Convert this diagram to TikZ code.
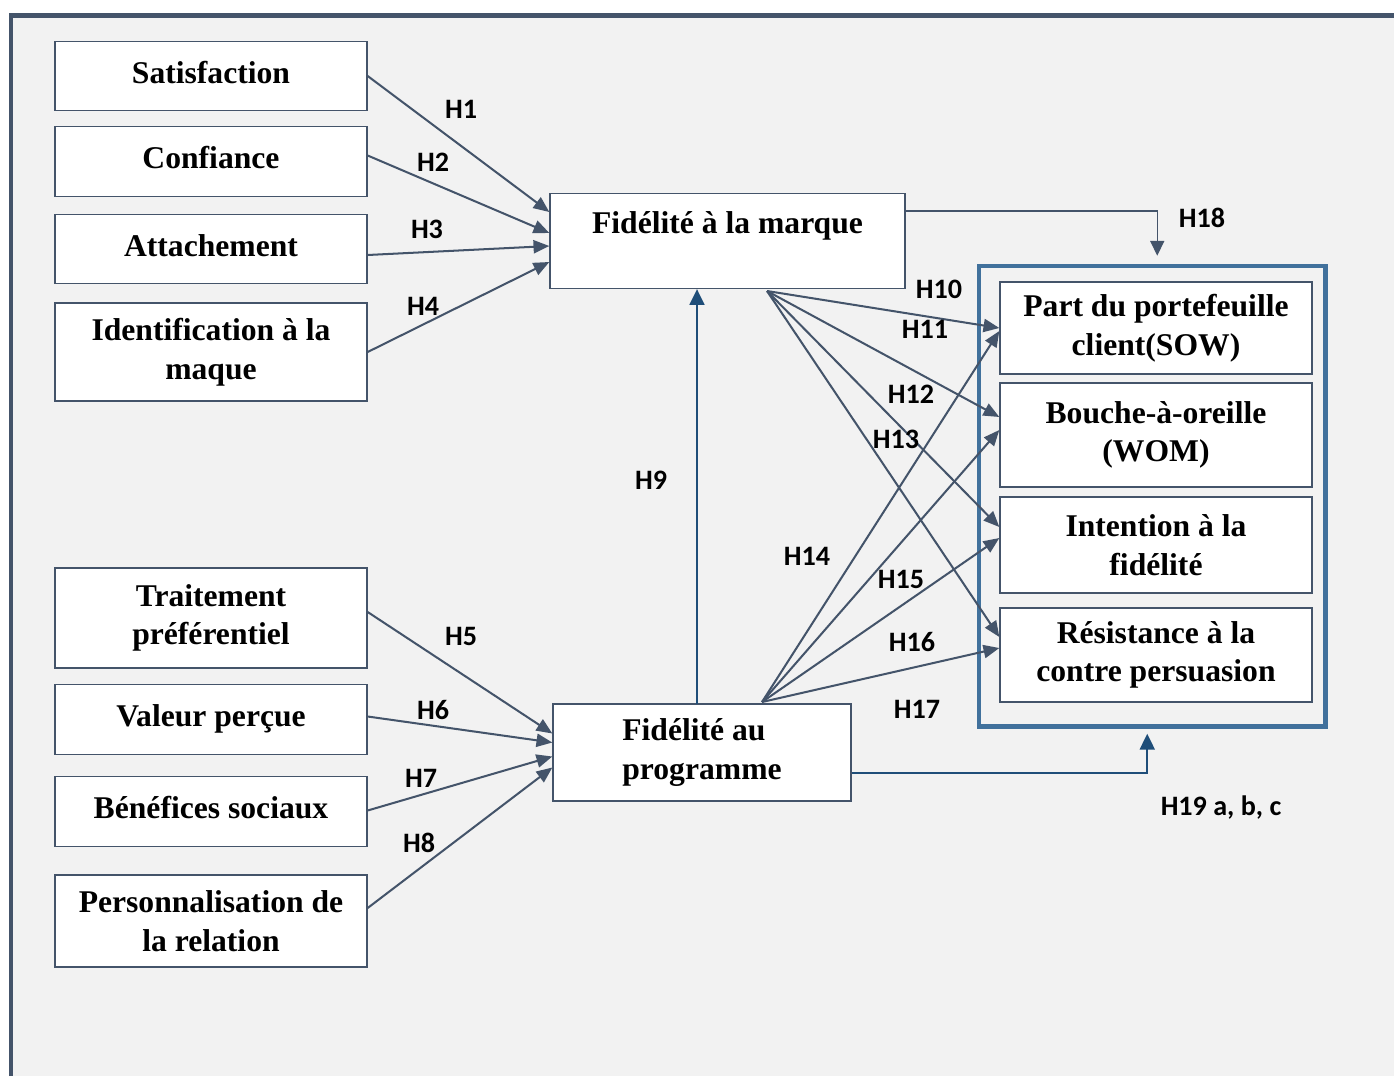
\documentclass[tikz,border=0pt]{standalone}
\usepackage{fontspec}
\setmainfont{Liberation Serif}
\newfontfamily\hypfont{Carlito}
\usetikzlibrary{arrows.meta,calc}

\definecolor{slate}{HTML}{44546A}
\definecolor{navy}{HTML}{1F4E79}
\definecolor{frameblue}{HTML}{41719C}
\definecolor{paper}{HTML}{F2F2F2}

\tikzset{
  box/.style={draw=slate, line width=0.8pt, fill=white, minimum width=6.24cm,
    align=center, inner sep=0pt, font=\fontsize{18}{22}\selectfont\bfseries},
  oneline/.style={box, minimum height=1.39cm, text depth=4.5pt},
  hyp/.style={font=\hypfont\fontsize{16}{19}\selectfont\bfseries},
  link/.style={draw=slate, line width=1.15pt, -{Triangle[length=9pt,width=7.5pt]}},
  thinlink/.style={draw=slate, line width=0.8pt, -{Triangle[length=8.5pt,width=8pt]}},
  bluelink/.style={draw=navy, line width=1.15pt, -{Triangle[length=9pt,width=8.5pt]}}
}

\begin{document}
\begin{tikzpicture}[x=0.02cm, y=-0.02cm]

    % page and frame
    \useasboundingbox (0,0) rectangle (1394,1076);
    \fill[paper] (12,16) rectangle (1394,1076);
    \draw[slate, line width=2.8pt] (11,1076) -- (11,15.5) -- (1394,15.5);

    % antecedents
    \node[oneline] (sat) at (211,76) {Satisfaction};
    \node[oneline] (conf) at (211,161.5) {Confiance};
    \node[oneline] (att) at (211,249) {Attachement};
    \node[box, minimum height=1.96cm] (ident) at (211,352) {Identification à la\\maque};
    \node[box, minimum height=2cm] (trait) at (211,618) {Traitement\\préférentiel};
    \node[oneline] (val) at (211,719.5) {Valeur perçue};
    \node[oneline] (ben) at (211,811.5) {Bénéfices sociaux};
    \node[box, minimum height=1.84cm] (pers) at (211,921) {Personnalisation de\\la relation};

    % loyalty
    \node[box, minimum width=7.1cm, text height=23pt, text depth=31pt] (fmarque) at (727.5,241) {Fidélité à la marque};
    \node[box, minimum width=5.96cm, minimum height=1.94cm, align=left] (fprog) at (702,752.5) {Fidélité au\\programme};

    % outcomes
    \node[draw=frameblue, line width=2.6pt, minimum width=6.93cm, minimum height=9.21cm] (outcomes) at (1152.25,496.25) {};
    \node[box, minimum height=1.84cm] (sow) at (1156,328) {Part du portefeuille\\client(SOW)};
    \node[box, minimum height=2.08cm] (wom) at (1156,435) {Bouche-à-oreille\\(WOM)};
    \node[box, minimum height=1.92cm] (intent) at (1156,545) {Intention à la\\fidélité};
    \node[box, minimum height=1.88cm] (resist) at (1156,655) {Résistance à la\\contre persuasion};

    \coordinate (mq) at (767,291);
    \coordinate (pg) at (762,702);
    \coordinate (p9) at (697,704);

    % H1 - H8
    \draw[link] (sat.east) -- ($(fmarque.west)+(0,-29)$);
    \draw[link] ($(conf.east)+(0,-6)$) -- ($(fmarque.west)+(0,-8)$);
    \draw[link] ($(att.east)+(0,6)$) -- ($(fmarque.west)+(0,5)$);
    \draw[link] (ident.east) -- ($(fmarque.west)+(0,21)$);
    \draw[link] ($(trait.east)+(0,-6)$) -- ($(fprog.west)+(0,-19)$);
    \draw[link] ($(val.east)+(0,-3)$) -- ($(fprog.west)+(0,-10)$);
    \draw[link] ($(ben.east)+(0,-1)$) -- ($(fprog.west)+(0,4)$);
    \draw[link] ($(pers.east)+(0,-13)$) -- ($(fprog.west)+(0,15)$);

    % H9
    \draw[bluelink] (p9) -- (p9 |- fmarque.south);

    % H10 - H17
    \draw[link] (mq) -- (sow.west);
    \draw[link] (mq) -- ($(wom.west)+(0,-18)$);
    \draw[link] (mq) -- ($(intent.west)+(0,-18)$);
    \draw[link] (mq) -- ($(resist.west)+(0,-18)$);
    \draw[link] (pg) -- ($(sow.west)+(0,3)$);
    \draw[link] (pg) -- ($(wom.west)+(0,-5)$);
    \draw[link] (pg) -- ($(intent.west)+(0,-7)$);
    \draw[link] (pg) -- ($(resist.west)+(0,-7)$);

    % H18, H19
    \draw[thinlink] ($(fmarque.east)+(0,-30)$) -| ($(outcomes.north)+(5,-8)$);
    \draw[bluelink] ($(fprog.east)+(0,20)$) -| ($(outcomes.south)+(-5,5)$);

    % labels
    \node[hyp] (h1) at (461,109) {H1};
    \node[hyp] (h2) at (433,162) {H2};
    \node[hyp] (h3) at (427,229) {H3};
    \node[hyp] (h4) at (423,306) {H4};
    \node[hyp] (h5) at (461,636) {H5};
    \node[hyp] (h6) at (433,710) {H6};
    \node[hyp] (h7) at (421,778) {H7};
    \node[hyp] (h8) at (419,843) {H8};
    \node[hyp] (h9) at (651,480) {H9};
    \node[hyp] (h10) at (939,289) {H10};
    \node[hyp] (h11) at (925,329) {H11};
    \node[hyp] (h12) at (911,394) {H12};
    \node[hyp] (h13) at (896,439) {H13};
    \node[hyp] (h14) at (807,556) {H14};
    \node[hyp] (h15) at (901,579) {H15};
    \node[hyp] (h16) at (912,642) {H16};
    \node[hyp] (h17) at (917,709) {H17};
    \node[hyp] (h18) at (1202,218) {H18};
    \node[hyp] (h19) at (1221,808) {H19 a, b, c};

\end{tikzpicture}
\end{document}
